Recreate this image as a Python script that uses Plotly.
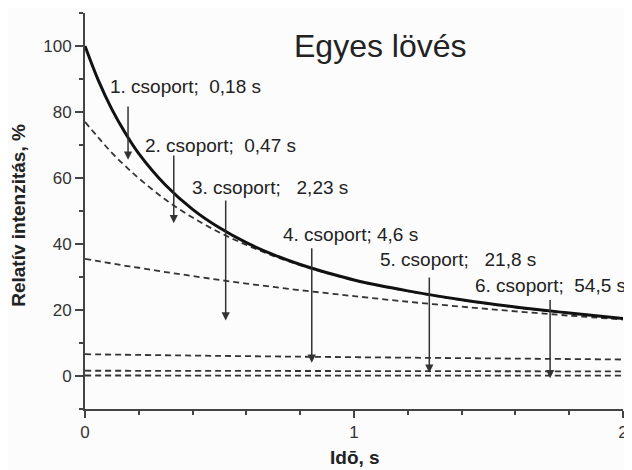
import plotly.graph_objects as go

# ── Data ───────────────────────────────────────────────────────────────────
t = [0, 0.05, 0.1, 0.15, 0.2, 0.3, 0.4, 0.5, 0.6, 0.7, 0.8, 0.9, 1.0, 1.2, 1.4, 1.6, 1.8, 2.0]

total = [100, 89.5, 80.8, 73.6, 67.4, 57.8, 50.5, 44.9, 40.4, 36.8, 33.8, 31.3,
         29.1, 25.8, 23.1, 20.9, 19.1, 17.4]
without_g1 = [77, 72.2, 67.6, 63.6, 59.9, 53.4, 48.0, 43.5, 39.7, 36.4, 33.6, 31.2,
              29.0, 25.7, 23.0, 20.8, 19.0, 17.3]
without_g12 = [35.5, 34.8, 34.1, 33.4, 32.8, 31.5, 30.3, 29.1, 28.0, 27.0, 26.0, 25.1,
               24.2, 22.5, 21.0, 19.6, 18.3, 17.1]

t_flat = [0, 0.5, 1.0, 1.5, 2.0]
without_g123 = [6.6, 6.1, 5.7, 5.35, 5.0]
groups_56 = [1.6, 1.55, 1.5, 1.45, 1.4]
group_6 = [0.15, 0.14, 0.13, 0.12, 0.1]

# arrows: x position, tail (top) and tip (bottom)
arrow_x = [0.16, 0.33, 0.523, 0.843, 1.28, 1.729]
arrow_top = [82.1, 67.3, 53.6, 39.2, 30.3, 23.5]
arrow_tip = [65.5, 46.3, 16.8, 4.0, 1.0, -0.7]

NB = '\u00a0'
labels = [
    f'1. csoport;{NB}{NB}0,18 s',
    f'2. csoport;{NB}{NB}0,47 s',
    f'3. csoport;{NB}{NB}{NB}2,23 s',
    f'4. csoport; 4,6 s',
    f'5. csoport;{NB}{NB}{NB}21,8 s',
    f'6. csoport;{NB}{NB}54,5{NB}s',
]
label_x = [0.088, 0.218, 0.395, 0.731, 1.092, 1.446]
label_y = [87.6, 70.0, 57.0, 42.9, 35.4, 27.3]

FONT = 'Liberation Sans, Arial, sans-serif'
INK = '#222222'
DASH = dict(color='#333333', width=1.8, dash='6px,4px')

fig = go.Figure()
for xs, ys in [(t, without_g1), (t, without_g12), (t_flat, without_g123),
               (t_flat, groups_56), (t_flat, group_6)]:
    fig.add_trace(go.Scatter(x=xs, y=ys, mode='lines', line=dict(shape='spline', **DASH),
                             showlegend=False, hoverinfo='skip'))
fig.add_trace(go.Scatter(x=t, y=total, mode='lines',
                         line=dict(color='#111111', width=3, shape='spline'),
                         showlegend=False))

for x, top, tip in zip(arrow_x, arrow_top, arrow_tip):
    fig.add_annotation(x=x, y=tip, ax=x, ay=top, axref='x', ayref='y',
                       text='', showarrow=True, arrowhead=2, arrowsize=1.1,
                       arrowwidth=1.5, arrowcolor='#333333')

for txt, x, y in zip(labels, label_x, label_y):
    fig.add_annotation(x=x, y=y, text=txt, showarrow=False, xanchor='left',
                       yanchor='middle', borderpad=0,
                       font=dict(size=19, color=INK, family=FONT))

fig.add_annotation(x=0.768, y=100, text='Egyes lövés', showarrow=False,
                   xanchor='left', yanchor='middle',
                   font=dict(size=32, color=INK, family=FONT))
fig.add_annotation(xref='paper', yref='paper', x=-0.123, y=0.49,
                   xanchor='center', yanchor='middle',
                   text='<b>Relatív intenzitás, %</b>', textangle=-90,
                   showarrow=False, font=dict(size=19, color=INK, family=FONT))
fig.add_annotation(xref='paper', yref='paper', x=0.502, y=-0.122,
                   xanchor='center', yanchor='middle',
                   text='<b>Idō, s</b>', showarrow=False,
                   font=dict(size=19, color=INK, family=FONT))

# the page body adds an 8px offset, so the figure is 8px smaller than the window
fig.update_layout(
    width=624, height=462,
    margin=dict(l=77, r=9, t=5, b=61),
    paper_bgcolor='#fcfcfc', plot_bgcolor='#fcfcfc',
    font=dict(family=FONT, size=17, color='#333333'),
)
fig.update_xaxes(range=[0, 2], dtick=1, tick0=0, ticks='outside', ticklen=7, tickwidth=2,
                 showline=True, linewidth=2, linecolor='#444444', showgrid=False,
                 zeroline=False, tickcolor='#444444',
                 minor=dict(dtick=0.2, ticks='outside', ticklen=4, tickwidth=1.5,
                            tickcolor='#444444', showgrid=False))
fig.update_yaxes(range=[-10, 110], dtick=20, tick0=0, ticks='outside', ticklen=8, tickwidth=2,
                 showline=True, linewidth=2, linecolor='#444444', showgrid=False,
                 zeroline=False, tickcolor='#444444',
                 minor=dict(dtick=10, ticks='outside', ticklen=4, tickwidth=1.5,
                            tickcolor='#444444', showgrid=False))

fig.write_html('out.html')
